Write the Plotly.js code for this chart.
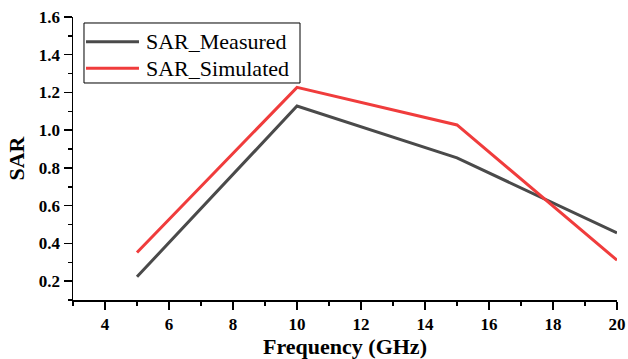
<!DOCTYPE html>
<html>
<head>
<meta charset="utf-8">
<script src="https://cdn.plot.ly/plotly-3.0.1.min.js"></script>
<style>
  html, body { margin: 0; padding: 0; background: #fff; }
  #chart { width: 628px; height: 359px; }
</style>
</head>
<body>
<div id="chart"></div>
<script>
// SAR versus frequency, measured and simulated
const frequency = [5, 10, 15, 20];
const sarMeasured = [0.223, 1.128, 0.853, 0.456];
const sarSimulated = [0.352, 1.227, 1.028, 0.311];
const xTicks = [4, 6, 8, 10, 12, 14, 16, 18, 20];
const yTicks = [0.2, 0.4, 0.6, 0.8, 1.0, 1.2, 1.4, 1.6];

const serif = 'Liberation Serif';

const traces = [
  {
    x: frequency, y: sarMeasured, name: 'SAR_Measured',
    type: 'scatter', mode: 'lines',
    line: { color: '#4a4a4a', width: 3 }
  },
  {
    x: frequency, y: sarSimulated, name: 'SAR_Simulated',
    type: 'scatter', mode: 'lines',
    line: { color: '#f03c3c', width: 3 }
  }
];

// Compact boxed legend in the upper-left corner of the plot area
const legendBox = { x0: 0.0202, x1: 0.4173, y0: 0.7668, y1: 0.9788 };
const swatch = { x0: 0.0239, x1: 0.1213, textX: 0.1305 };
const rowY = [0.9127, 0.8187];

const legendShapes = [
  { type: 'rect', xref: 'paper', yref: 'paper',
    x0: legendBox.x0, x1: legendBox.x1, y0: legendBox.y0, y1: legendBox.y1,
    line: { color: '#000', width: 1 }, fillcolor: '#fff', layer: 'above' }
].concat(traces.map((t, i) => ({
  type: 'line', xref: 'paper', yref: 'paper',
  x0: swatch.x0, x1: swatch.x1, y0: rowY[i], y1: rowY[i],
  line: { color: t.line.color, width: t.line.width }, layer: 'above'
})));

const legendLabels = traces.map((t, i) => ({
  xref: 'paper', yref: 'paper', x: swatch.textX, y: rowY[i],
  xanchor: 'left', yanchor: 'middle', showarrow: false,
  text: t.name, font: { family: serif, size: 22, color: '#000' }
}));

const axisCommon = {
  showline: true, linecolor: '#000', linewidth: 1.5,
  ticks: 'outside', ticklen: 8, tickwidth: 1.5, tickcolor: '#000',
  showgrid: false, zeroline: false, mirror: false,
  tickfont: { family: serif, size: 17, color: '#000' }
};

const layout = {
  width: 628, height: 359,
  margin: { l: 73, r: 11, t: 17, b: 59 },
  paper_bgcolor: '#fff', plot_bgcolor: '#fff',
  font: { family: serif },
  showlegend: false,
  shapes: legendShapes,
  annotations: legendLabels,
  xaxis: Object.assign({}, axisCommon, {
    range: [3, 20], tickmode: 'array', tickvals: xTicks,
    ticktext: xTicks.map(v => '<b>' + v + '</b>'),
    minor: { dtick: 1, tick0: 3, ticks: 'outside', ticklen: 4, tickwidth: 1.5, tickcolor: '#000' },
    title: { text: '<b>Frequency (GHz)</b>', font: { family: serif, size: 22, color: '#000' }, standoff: 4 }
  }),
  yaxis: Object.assign({}, axisCommon, {
    range: [0.1, 1.6], tickmode: 'array', tickvals: yTicks,
    ticktext: yTicks.map(v => '<b>' + v.toFixed(1) + '</b>'),
    minor: { dtick: 0.1, tick0: 0.1, ticks: 'outside', ticklen: 4, tickwidth: 1.5, tickcolor: '#000' },
    title: { text: '<b>SAR</b>', font: { family: serif, size: 22, color: '#000' }, standoff: 8 }
  })
};

Plotly.newPlot('chart', traces, layout, { displayModeBar: false, staticPlot: true });
</script>
</body>
</html>
